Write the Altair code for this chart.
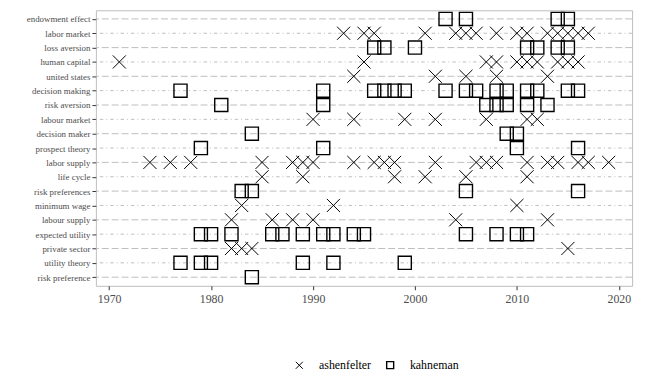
import altair as alt
import pandas as pd

terms = ["endowment effect", "labor market", "loss aversion", "human capital",
         "united states", "decision making", "risk aversion", "labour market",
         "decision maker", "prospect theory", "labor supply", "life cycle",
         "risk preferences", "minimum wage", "labour supply", "expected utility",
         "private sector", "utility theory", "risk preference"]

ashenfelter_years = {
    "labor market": [1993, 1995, 1996, 2001, 2004, 2005, 2006, 2008, 2010, 2011,
                     2013, 2014, 2015, 2016, 2017],
    "human capital": [1971, 1995, 2007, 2008, 2010, 2011, 2012, 2014, 2015, 2016],
    "united states": [1994, 2002, 2005, 2008, 2013],
    "labour market": [1990, 1994, 1999, 2002, 2007, 2011, 2012],
    "labor supply": [1974, 1976, 1978, 1985, 1988, 1989, 1990, 1994, 1996, 1997,
                     1998, 2002, 2006, 2007, 2008, 2011, 2013, 2014, 2016, 2017, 2019],
    "life cycle": [1985, 1989, 1998, 2001, 2005, 2011],
    "minimum wage": [1983, 1992, 2010],
    "labour supply": [1982, 1986, 1988, 1990, 2004, 2013],
    "private sector": [1982, 1983, 1984, 2015],
}

kahneman_years = {
    "endowment effect": [2003, 2005, 2014, 2015],
    "loss aversion": [1996, 1997, 2000, 2011, 2012, 2014, 2015],
    "decision making": [1977, 1991, 1996, 1997, 1998, 1999, 2003, 2005, 2006,
                        2008, 2009, 2011, 2012, 2015, 2016],
    "risk aversion": [1981, 1991, 2007, 2008, 2009, 2011, 2013],
    "decision maker": [1984, 2009, 2010],
    "prospect theory": [1979, 1991, 2010, 2016],
    "risk preferences": [1983, 1984, 2005, 2016],
    "expected utility": [1979, 1980, 1982, 1986, 1987, 1989, 1991, 1992, 1994,
                         1995, 2005, 2008, 2010, 2011],
    "utility theory": [1977, 1979, 1980, 1989, 1992, 1999],
    "risk preference": [1984],
}

x_ticks = [1970, 1980, 1990, 2000, 2010, 2020]

rows = []
for t, ys in ashenfelter_years.items():
    for y in ys:
        rows.append({"term": t, "year": y, "author": "ashenfelter"})
for t, ys in kahneman_years.items():
    for y in ys:
        rows.append({"term": t, "year": y, "author": "kahneman"})
pts = pd.DataFrame(rows)

grid = pd.DataFrame({"term": terms,
                     "ltype": ["dash" if i % 2 == 0 else "dotdash" for i in range(len(terms))]})

yscale = alt.Scale(type="point", domain=terms, padding=0.6)
FONT = "Liberation Serif"

rules = alt.Chart(grid).mark_rule(color="#bebebe", strokeWidth=1).encode(
    y=alt.Y("term:N", scale=yscale, title=None),
    strokeDash=alt.StrokeDash("ltype:N",
                              scale=alt.Scale(domain=["dash", "dotdash"],
                                              range=[[7, 3], [3.5, 3, 1, 3]]),
                              legend=None),
)

X_PATH = "M-1,-1L1,1M-1,1L1,-1"

points = alt.Chart(pts).mark_point(filled=False, size=176, color="black", opacity=1).encode(
    x=alt.X("year:Q", scale=alt.Scale(domain=[1968.7, 2021.3], nice=False, zero=False),
            axis=alt.Axis(values=x_ticks, format="d", title=None, grid=False,
                          labelFontSize=12, labelColor="#4d4d4d", tickSize=4,
                          tickColor="#333333", domain=False, labelPadding=4)),
    y=alt.Y("term:N", scale=yscale,
            axis=alt.Axis(title=None, labelFontSize=9, labelColor="#4d4d4d",
                          tickSize=4, tickColor="#333333", domain=False,
                          labelPadding=2, grid=False)),
    shape=alt.Shape("author:N",
                    scale=alt.Scale(domain=["ashenfelter", "kahneman"],
                                    range=[X_PATH, "square"]),
                    legend=alt.Legend(title=None, orient="none", legendX=200, legendY=353,
                                      direction="horizontal", symbolSize=50,
                                      symbolStrokeColor="black", symbolStrokeWidth=1,
                                      symbolFillColor="transparent",
                                      labelFontSize=12, labelColor="black",
                                      labelOffset=14, columnPadding=12)),
    strokeWidth=alt.StrokeWidth("author:N",
                                scale=alt.Scale(domain=["ashenfelter", "kahneman"],
                                                range=[1.0, 1.4]),
                                legend=None),
)

chart = alt.layer(rules, points).properties(
    width=543, height=279,
    autosize=alt.AutoSizeParams(type="none"),
    padding={"left": 89, "top": 0, "right": 8, "bottom": 88},
).configure(font=FONT).configure_view(
    stroke="#bdbdbd", strokeWidth=1
).configure_axis(labelFont=FONT).configure_legend(labelFont=FONT)

chart.save("out.html", embed_options={"renderer": "svg", "actions": False})
